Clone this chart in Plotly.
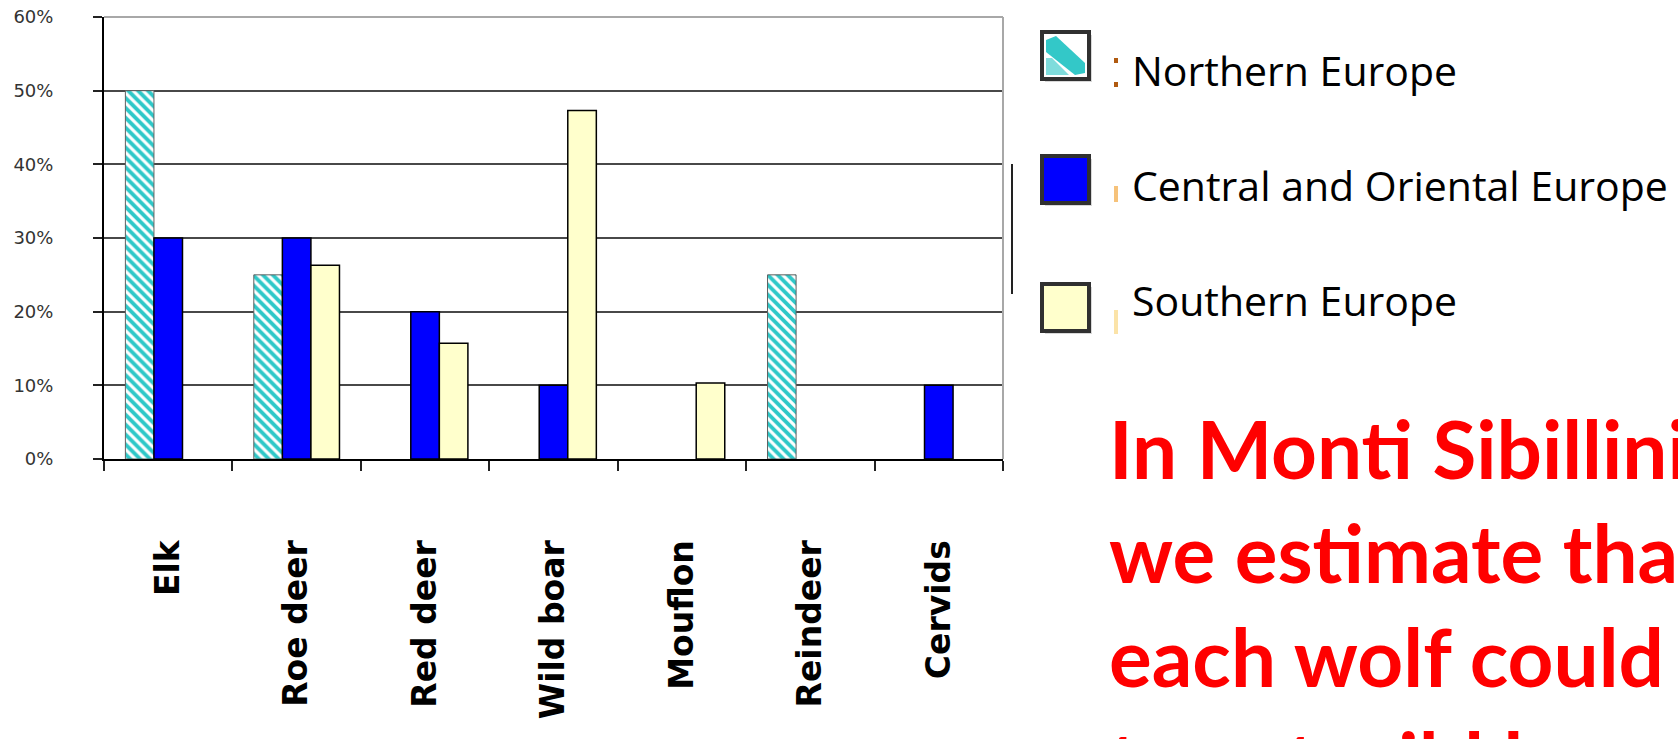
import plotly.graph_objects as go

# Prey composition of wolf diet by region
categories = ["Elk", "Roe deer", "Red deer", "Wild boar", "Mouflon", "Reindeer", "Cervids"]
series_names = ["Northern Europe", "Central and Oriental Europe", "Southern Europe"]
northern = [0.50, 0.25, None, None, None, 0.25, None]
central = [0.30, 0.30, 0.20, 0.10, None, None, 0.10]
southern = [None, 0.263, 0.157, 0.473, 0.103, None, None]
y_ticks = [0, 0.1, 0.2, 0.3, 0.4, 0.5, 0.6]
note_lines = ["In Monti Sibillini", "we estimate that", "each wolf could", "to eat wild boars"]

W, H = 1678, 739
L, R, T, B = 104, 675, 17, 280
PW, PH = W - L - R, H - T - B


def px(x):
    return (x - L) / PW


def py(y):
    return (H - B - y) / PH


fig = go.Figure()
fig.add_trace(go.Bar(
    x=categories, y=northern, name=series_names[0],
    marker=dict(color="white",
                pattern=dict(shape="\\", fgcolor="#2ec8c8", bgcolor="white", size=7,
                             solidity=0.55, fgopacity=1),
                line=dict(color="#606060", width=1)),
))
fig.add_trace(go.Bar(
    x=categories, y=central, name=series_names[1],
    marker=dict(color="#0000ff", line=dict(color="black", width=1.5)),
))
fig.add_trace(go.Bar(
    x=categories, y=southern, name=series_names[2],
    marker=dict(color="#ffffcc", line=dict(color="black", width=1.5)),
))

shapes = []
# plot frame: light top and right border
shapes.append(dict(type="line", xref="paper", yref="paper", x0=0, x1=1, y0=1, y1=1,
                   line=dict(color="#a8a8a8", width=2), layer="above"))
shapes.append(dict(type="line", xref="paper", yref="paper", x0=1, x1=1, y0=0, y1=1,
                   line=dict(color="#a8a8a8", width=2), layer="above"))
# short vertical rule beside the legend
shapes.append(dict(type="line", xref="paper", yref="paper", x0=px(1012), x1=px(1012),
                   y0=py(164), y1=py(294), line=dict(color="#222", width=2)))

# legend swatches
swatch_fill = ["white", "#0000ff", "#ffffcc"]
swatch_top = [32, 156, 284]
label_mid = [70, 185, 300]
sx0, sx1 = 1042, 1089
annotations = []
for i, name in enumerate(series_names):
    t = swatch_top[i]
    # soft shadow
    shapes.append(dict(type="rect", xref="paper", yref="paper",
                       x0=px(sx0 + 3), x1=px(sx1 + 3), y0=py(t + 50), y1=py(t + 3),
                       fillcolor="#d8d8d8", line=dict(width=0)))
    shapes.append(dict(type="rect", xref="paper", yref="paper",
                       x0=px(sx0), x1=px(sx1), y0=py(t + 47), y1=py(t),
                       fillcolor=swatch_fill[i], line=dict(color="#303030", width=4)))
    annotations.append(dict(text=name, xref="paper", yref="paper", x=px(1130), y=py(label_mid[i]),
                            xanchor="left", yanchor="middle", showarrow=False,
                            font=dict(family="Open Sans", size=41, color="black")))

# hatch band inside the Northern Europe swatch
a0, a1, b0, b1 = sx0 + 4, sx1 - 4, swatch_top[0] + 4, swatch_top[0] + 43
band = [(a0, b0 + 4), (a0 + 10, b0), (a1, b1 - 12), (a1, b1 - 2), (a1 - 10, b1), (a0, b0 + 16)]
path = "M " + " L ".join(f"{px(x):.5f},{py(y):.5f}" for x, y in band) + " Z"
shapes.append(dict(type="path", xref="paper", yref="paper", path=path,
                   fillcolor="#33c8c8", line=dict(width=0)))
band2 = [(a0, b0 + 22), (a0 + 6, b0 + 22), (a1 - 16, b1), (a0, b1)]
path2 = "M " + " L ".join(f"{px(x):.5f},{py(y):.5f}" for x, y in band2) + " Z"
shapes.append(dict(type="path", xref="paper", yref="paper", path=path2,
                   fillcolor="#7fdcdc", line=dict(width=0)))

# small coloured marks next to the legend labels
for (y0, y1, c) in [(58, 63, "#b05a10"), (82, 87, "#b05a10"), (186, 202, "#f6c27a"), (310, 334, "#fbe3a8")]:
    shapes.append(dict(type="rect", xref="paper", yref="paper",
                       x0=px(1114), x1=px(1118), y0=py(y1), y1=py(y0),
                       fillcolor=c, line=dict(width=0)))

# red note text
annotations.append(dict(text="<br>".join(note_lines), xref="paper", yref="paper",
                        x=px(1107), y=py(398), xanchor="left", yanchor="top", align="left",
                        showarrow=False,
                        font=dict(family="Lato", size=80, color="#ff0000", weight="bold")))

fig.update_layout(
    width=W, height=H,
    margin=dict(l=L, r=R, t=T, b=B, autoexpand=False),
    paper_bgcolor="white", plot_bgcolor="white",
    barmode="group", bargap=0.333, bargroupgap=0,
    showlegend=False,
    shapes=shapes, annotations=annotations,
    xaxis=dict(
        type="category", showgrid=False, showline=True, linecolor="black", linewidth=2,
        ticks="outside", tickson="boundaries", ticklen=10, tickwidth=2, tickcolor="#222",
        tickangle=-90, ticklabelstandoff=66,
        tickfont=dict(family="DejaVu Sans", size=33, color="black", weight="bold"),
    ),
    yaxis=dict(
        range=[0, 0.6], tickvals=y_ticks, tickformat=".0%",
        showgrid=True, gridcolor="#484848", gridwidth=2, zeroline=False,
        showline=True, linecolor="black", linewidth=2,
        ticks="outside", ticklen=9, tickwidth=2, tickcolor="#222",
        ticklabelstandoff=36,
        tickfont=dict(family="DejaVu Sans", size=18, color="#333"),
    ),
)

fig.write_html("out.html")
